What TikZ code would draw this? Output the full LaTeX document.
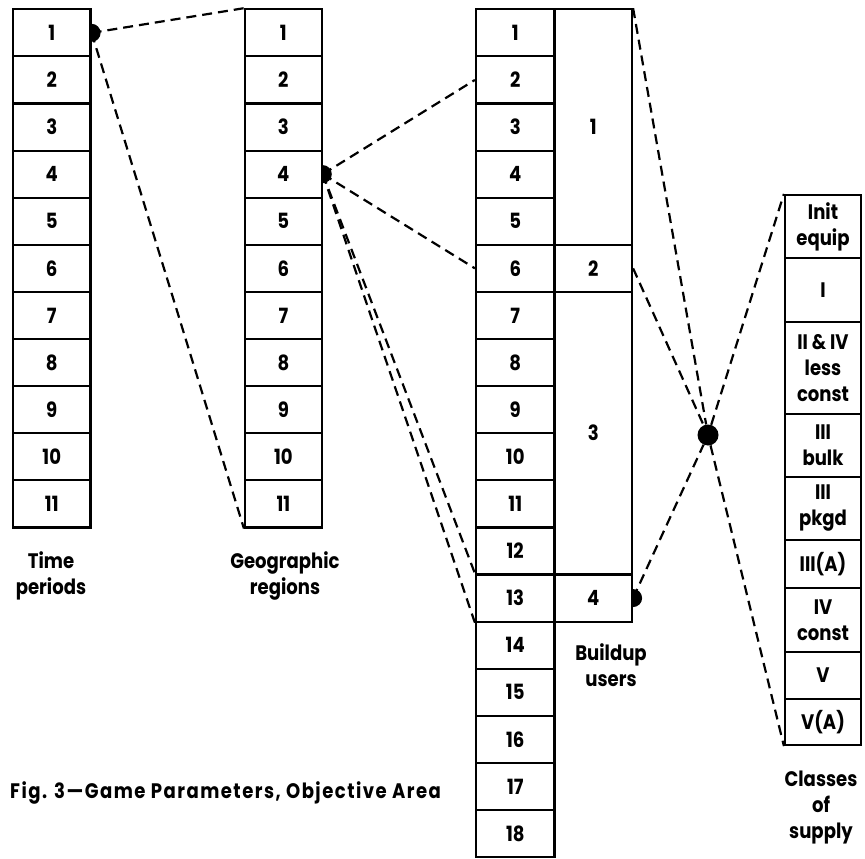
\documentclass[tikz,border=0pt]{standalone}
\usepackage{fontspec}
\setmainfont{Poppins}[FakeStretch=0.86]
\newfontfamily\capfam{Poppins}[FakeStretch=0.86, LetterSpace=7]
\newcommand\cellfont{\fontsize{21}{26}\selectfont\bfseries}
\newcommand\capfont{\capfam\fontsize{21}{24}\selectfont\bfseries}
\begin{document}
\begin{tikzpicture}[x=1pt,y=-1pt,
  box/.style={draw, line width=2.2pt, rectangle, inner sep=0pt, align=center, font=\cellfont},
  link/.style={line width=2.2pt, dash pattern=on 10pt off 6pt},
  lbl/.style={align=center, font=\cellfont, inner sep=0pt}
]
\useasboundingbox (0,0) rectangle (865,859);
% Time periods
\foreach \i in {1,...,11} {
  \node[box, minimum width=77.5pt, minimum height=47.1pt] (t\i) at (51.75,{9.3+(\i-0.5)*47.1}) {\i};
}
% Geographic regions
\foreach \i in {1,...,11} {
  \node[box, minimum width=76.7pt, minimum height=47.1pt] (r\i) at (283.35,{9.3+(\i-0.5)*47.1}) {\i};
}
% Buildup users
\foreach \i in {1,...,18} {
  \node[box, minimum width=78.5pt, minimum height=47.1pt] (b\i) at (515.25,{9.3+(\i-0.5)*47.1}) {\i};
}
\node[box, minimum width=77.5pt, minimum height=235.5pt] (g1) at (593.25,127.05) {1};
\node[box, minimum width=77.5pt, minimum height=47.1pt] (g2) at (593.25,268.35) {2};
\node[box, minimum width=77.5pt, minimum height=282.6pt] (g3) at (593.25,433.2) {3};
\node[box, minimum width=77.5pt, minimum height=47.1pt] (g4) at (593.25,598.05) {4};
% Classes of supply
\node[box, minimum width=76pt, minimum height=63pt] (c1) at (823,226.5) {Init\\equip};
\node[box, minimum width=76pt, minimum height=63.7pt] (c2) at (823,289.85) {I};
\node[box, minimum width=76pt, minimum height=92.6pt] (c3) at (823,368) {II \& IV\\less\\const};
\node[box, minimum width=76pt, minimum height=62.4pt] (c4) at (823,445.5) {III\\bulk};
\node[box, minimum width=76pt, minimum height=63.3pt] (c5) at (823,508.35) {III\\pkgd};
\node[box, minimum width=76pt, minimum height=48.3pt] (c6) at (823,564.15) {III(A)};
\node[box, minimum width=76pt, minimum height=63.4pt] (c7) at (823,620) {IV\\const};
\node[box, minimum width=76pt, minimum height=47.6pt] (c8) at (823,675.5) {V};
\node[box, minimum width=76pt, minimum height=45.7pt] (c9) at (823,722.15) {V(A)};
% column labels
\node[lbl] (lt) at (51,575.5) {Time\\periods};
\node[lbl] (lr) at (285,575.5) {Geographic\\regions};
\node[lbl] (lb) at (611,665.5) {Buildup\\users};
\node[lbl] (lc) at (821,808) {Classes\\of\\supply};
\node[lbl, font=\capfont, anchor=west] (cap) at (10,793) {Fig. 3—Game Parameters, Objective Area};
% junction points
\coordinate (d1) at (t1.east);
\coordinate (d2) at (r4.east);
\coordinate (d3) at (g4.east);
\node[circle, fill=black, inner sep=0pt, minimum size=21pt] (hub) at (708,435) {};
% connectors
\draw[link] (d1) -- (r1.north west);
\draw[link] (d1) -- (r11.south west);
\draw[link] (d2) -- (b2.west);
\draw[link] (d2) -- (b6.west);
\draw[link] (d2) -- (b13.north west);
\draw[link] (d2) -- (b13.south west);
\draw[link] (g1.north east) -- (hub);
\draw[link] (g2.east) -- (hub);
\draw[link] (d3) -- (hub);
\draw[link] (hub) -- (c1.north west);
\draw[link] (hub) -- (c9.south west);
% dots
\foreach \d in {d1,d2,d3} {
  \fill (\d) ++(0,-9) arc[start angle=-90, end angle=90, radius=9] -- cycle;
}
\end{tikzpicture}
\end{document}
